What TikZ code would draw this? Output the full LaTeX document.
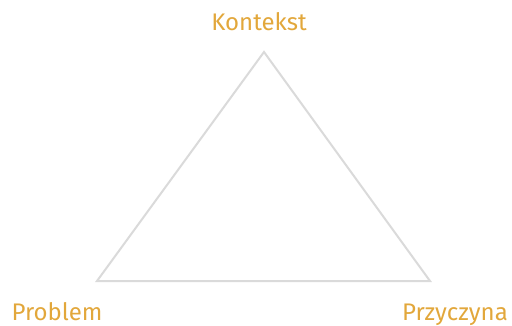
\documentclass[tikz,border=0pt]{standalone}
\usepackage{fontspec}
\setmainfont{Fira Sans}
\usetikzlibrary{positioning,calc}
\definecolor{goldlabel}{HTML}{E2A73B}
\definecolor{edgegray}{HTML}{DADADA}
\tikzset{every picture/.style={line width=0.75pt}}

\begin{document}
\begin{tikzpicture}[
    x=1pt,y=-1pt,
    edge/.style={edgegray,line width=2pt,line join=miter},
    corner/.style={text=goldlabel,font=\fontsize{24}{27}\selectfont,inner sep=0pt,anchor=base}
]
    % Canvas
    \useasboundingbox (0,0) rectangle (512,326);

    % Corners
    \coordinate (top) at (264,52);
    \coordinate (left) at (97,281);
    \coordinate (right) at (430,281);

    % Triangle
    \draw[edge] (top) -- (left) -- (right) -- cycle;

    % Labels
    \node[corner] (kontekst) at (259,31) {Kontekst};
    \node[corner] (problem) at (57,320) {Problem};
    \node[corner] (przyczyna) at (455,320) {Przyczyna};
\end{tikzpicture}
\end{document}
